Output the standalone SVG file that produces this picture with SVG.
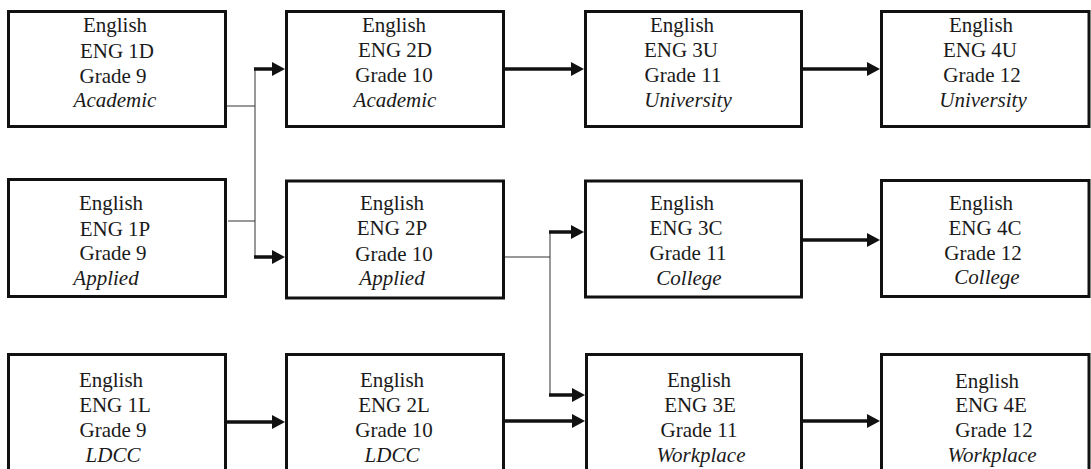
<svg xmlns="http://www.w3.org/2000/svg" width="1091" height="469" viewBox="0 0 1091 469">
<style>
.box{fill:#fff;stroke:#111;stroke-width:3}
.t text{font-family:'Liberation Serif','Times New Roman',Tinos,'DejaVu Serif',serif;font-size:21px;fill:#1a1a1a;text-anchor:middle}
.i{font-style:italic}
.thin{fill:none;stroke:#333;stroke-width:1}
.thick{fill:none;stroke:#111;stroke-width:3.5;marker-end:url(#ah)}
</style>
<defs>
<marker id="ah" markerUnits="userSpaceOnUse" markerWidth="13" markerHeight="14" refX="2" refY="7" orient="auto" viewBox="0 0 13 14">
<path d="M0,0 L13,7 L0,14 z" fill="#111"/>
</marker>
</defs>
<rect width="1091" height="469" fill="#fff"/>
<g id="connectors">
<path class="thin" d="M227,106 H255 M228,221 H255 M255,69 V257 M505,257 H550 M550,232 V395"/>
<path class="thick" d="M254,69 H274"/>
<path class="thick" d="M254,257 H274"/>
<path class="thick" d="M505,69 H573"/>
<path class="thick" d="M803,69 H869"/>
<path class="thick" d="M549,232 H573"/>
<path class="thick" d="M549,395 H574"/>
<path class="thick" d="M227,422 H274"/>
<path class="thick" d="M505,421 H574"/>
<path class="thick" d="M803,240 H869"/>
<path class="thick" d="M803,421 H869"/>
</g>
<g class="t" font-family="Liberation Serif, serif">
<g id="eng1d">
<rect class="box" x="8.5" y="11.5" width="217" height="115"/>
<text x="115" y="32">English</text><text x="117" y="58">ENG 1D</text><text x="113" y="83">Grade 9</text><text class="i" x="115" y="107">Academic</text>
</g>
<g id="eng2d">
<rect class="box" x="286.5" y="11.5" width="217" height="115"/>
<text x="394" y="32">English</text><text x="395" y="57">ENG 2D</text><text x="394" y="82">Grade 10</text><text class="i" x="395" y="107">Academic</text>
</g>
<g id="eng3u">
<rect class="box" x="585.5" y="11.5" width="216" height="115"/>
<text x="682" y="32">English</text><text x="681" y="57">ENG 3U</text><text x="683" y="82">Grade 11</text><text class="i" x="688" y="107">University</text>
</g>
<g id="eng4u">
<rect class="box" x="881.5" y="11.5" width="207.5" height="115"/>
<text x="981" y="32">English</text><text x="980" y="57">ENG 4U</text><text x="982" y="82">Grade 12</text><text class="i" x="983" y="107">University</text>
</g>
<g id="eng1p">
<rect class="box" x="8.5" y="179.5" width="217" height="117"/>
<text x="111" y="210">English</text><text x="115" y="236">ENG 1P</text><text x="113" y="260">Grade 9</text><text class="i" x="106" y="285">Applied</text>
</g>
<g id="eng2p">
<rect class="box" x="286.5" y="181" width="217" height="117"/>
<text x="392" y="210">English</text><text x="392" y="235">ENG 2P</text><text x="394" y="261">Grade 10</text><text class="i" x="392" y="285">Applied</text>
</g>
<g id="eng3c">
<rect class="box" x="585.5" y="181" width="216" height="116"/>
<text x="682" y="210">English</text><text x="686" y="235">ENG 3C</text><text x="688" y="260">Grade 11</text><text class="i" x="689" y="285">College</text>
</g>
<g id="eng4c">
<rect class="box" x="881.5" y="180.5" width="207.5" height="116"/>
<text x="981" y="210">English</text><text x="985" y="235">ENG 4C</text><text x="983" y="260">Grade 12</text><text class="i" x="987" y="284">College</text>
</g>
<g id="eng1l">
<rect class="box" x="8.5" y="354.5" width="217" height="130"/>
<text x="111" y="387">English</text><text x="115" y="412">ENG 1L</text><text x="113" y="437">Grade 9</text><text class="i" x="113" y="462">LDCC</text>
</g>
<g id="eng2l">
<rect class="box" x="286.5" y="354.5" width="217" height="130"/>
<text x="392" y="387">English</text><text x="394" y="412">ENG 2L</text><text x="394" y="437">Grade 10</text><text class="i" x="392" y="462">LDCC</text>
</g>
<g id="eng3e">
<rect class="box" x="586.5" y="354.5" width="215" height="130"/>
<text x="699" y="387">English</text><text x="700" y="412">ENG 3E</text><text x="699" y="437">Grade 11</text><text class="i" x="701" y="462">Workplace</text>
</g>
<g id="eng4e">
<rect class="box" x="881.5" y="354.5" width="207.5" height="130"/>
<text x="987" y="388">English</text><text x="991" y="412">ENG 4E</text><text x="994" y="437">Grade 12</text><text class="i" x="992" y="462">Workplace</text>
</g>
</g>
</svg>
